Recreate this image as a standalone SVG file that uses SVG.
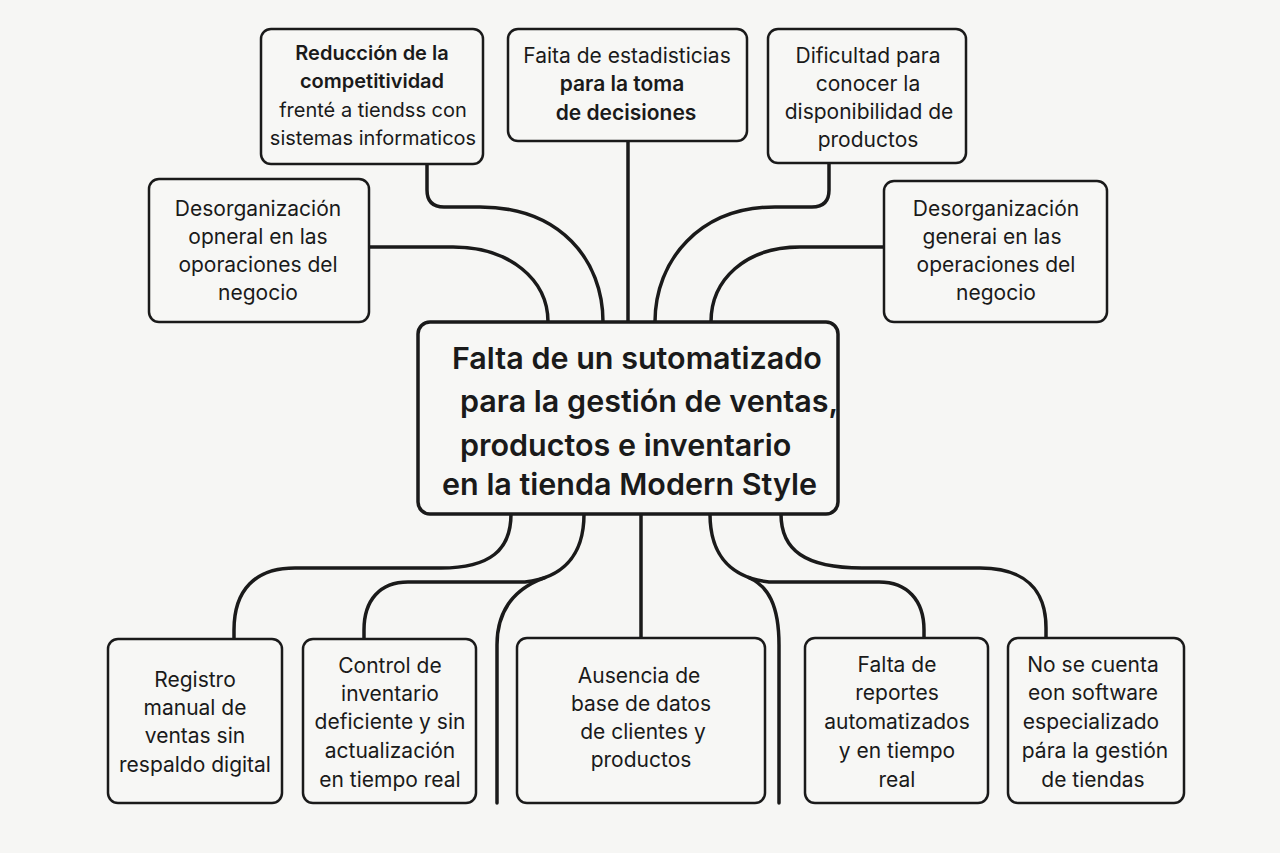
<svg xmlns="http://www.w3.org/2000/svg" width="1280" height="853" viewBox="0 0 1280 853">
<style>
.bg{fill:#f6f6f4}
.box{fill:#f7f7f5;stroke:#1a1a1a;stroke-width:2.5}
.main{fill:#f7f7f5;stroke:#1a1a1a;stroke-width:3.5}
.t{font-family:Inter,"Liberation Sans",sans-serif;font-size:21px;fill:#1a1a1a;text-anchor:middle}
.s{font-size:20px}
.b{font-weight:600}
.m{font-family:Inter,"Liberation Sans",sans-serif;font-size:30.5px;font-weight:600;fill:#1a1a1a}
.c{fill:none;stroke:#1a1a1a;stroke-width:3.5;stroke-linecap:round}
</style>
<rect class="bg" x="0" y="0" width="1280" height="853"/>
<g id="connectors">
<path class="c" d="M427,164 V190 Q427,207 444,207 H480 C560,207 603,260 603,322"/>
<path class="c" d="M369,247 H453 C510,247 548,280 548,322"/>
<path class="c" d="M628,141 V322"/>
<path class="c" d="M655,322 C655,260 700,207 775,207 H812 Q829,207 829,190 V163"/>
<path class="c" d="M711,322 C711,280 745,247 800,247 H884"/>
<path class="c" d="M511,514 C511,550 490,568 441,568 H295 C255,568 234,590 234,630 V639"/>
<path class="c" d="M584,514 C584,558 560,578 525,582 H408 C380,582 364,600 364,630 V639"/>
<path class="c" d="M545,577.6 C520,586.5 497,605 497,645 V803"/>
<path class="c" d="M641,514 V638"/>
<path class="c" d="M710,514 C710,558 734,578 769,582 H879 C907,582 924,600 924,630 V638"/>
<path class="c" d="M749,577.6 C768,586 779,605 779,645 V803"/>
<path class="c" d="M781,514 C781,550 805,568 862,568 H980 C1025,568 1046,590 1046,628 V638"/>
</g>
<g id="n_reduccion">
<rect class="box" x="261" y="29" width="222" height="135" rx="10"/>
<text class="t s b" x="372" y="60">Reducción de la</text>
<text class="t s b" x="372" y="88">competitividad</text>
<text class="t s" x="373" y="117">frenté a tiendss con</text>
<text class="t s" x="373" y="145">sistemas informaticos</text>
</g>
<g id="n_estadisticas">
<rect class="box" x="508" y="29" width="239" height="112" rx="10"/>
<text class="t" x="627" y="63">Faita de estadisticias</text>
<text class="t b" x="622" y="91">para la toma</text>
<text class="t b" x="626" y="120">de decisiones</text>
</g>
<g id="n_dificultad">
<rect class="box" x="768" y="29" width="198" height="134" rx="10"/>
<text class="t" x="868" y="63">Dificultad para</text>
<text class="t" x="868" y="91">conocer la</text>
<text class="t" x="869" y="119">disponibilidad de</text>
<text class="t" x="868" y="147">productos</text>
</g>
<g id="n_desorg_izq">
<rect class="box" x="149" y="179" width="220" height="143" rx="10"/>
<text class="t" x="258" y="216">Desorganización</text>
<text class="t" x="258" y="244">opneral en las</text>
<text class="t" x="258" y="272">oporaciones del</text>
<text class="t" x="258" y="300">negocio</text>
</g>
<g id="n_desorg_der">
<rect class="box" x="884" y="181" width="223" height="141" rx="10"/>
<text class="t" x="996" y="216">Desorganización</text>
<text class="t" x="992" y="244">generai en las</text>
<text class="t" x="996" y="272">operaciones del</text>
<text class="t" x="996" y="300">negocio</text>
</g>
<g id="n_central">
<rect class="main" x="418" y="322" width="420" height="192" rx="12"/>
<text class="m" x="452" y="369">Falta de un sutomatizado</text>
<text class="m" x="460" y="412">para la gestión de ventas,</text>
<text class="m" x="460" y="456">productos e inventario</text>
<text class="m" x="442" y="495">en la tienda Modern Style</text>
</g>
<g id="n_registro">
<rect class="box" x="108" y="639" width="174" height="164" rx="10"/>
<text class="t" x="195" y="687">Registro</text>
<text class="t" x="195" y="715">manual de</text>
<text class="t" x="195" y="743">ventas sin</text>
<text class="t" x="195" y="772">respaldo digital</text>
</g>
<g id="n_control">
<rect class="box" x="303" y="639" width="173" height="164" rx="10"/>
<text class="t" x="390" y="673">Control de</text>
<text class="t" x="390" y="701">inventario</text>
<text class="t" x="390" y="729">deficiente y sin</text>
<text class="t" x="390" y="758">actualización</text>
<text class="t" x="390" y="787">en tiempo real</text>
</g>
<g id="n_ausencia">
<rect class="box" x="517" y="638" width="248" height="165" rx="10"/>
<text class="t" x="639" y="683">Ausencia de</text>
<text class="t" x="641" y="711">base de datos</text>
<text class="t" x="643" y="739">de clientes y</text>
<text class="t" x="641" y="767">productos</text>
</g>
<g id="n_reportes">
<rect class="box" x="805" y="638" width="183" height="165" rx="10"/>
<text class="t" x="897" y="672">Falta de</text>
<text class="t" x="897" y="700">reportes</text>
<text class="t" x="897" y="729">automatizados</text>
<text class="t" x="897" y="758">y en tiempo</text>
<text class="t" x="897" y="787">real</text>
</g>
<g id="n_software">
<rect class="box" x="1008" y="638" width="176" height="165" rx="10"/>
<text class="t" x="1093" y="672">No se cuenta</text>
<text class="t" x="1093" y="700">eon software</text>
<text class="t" x="1091" y="729">especializado</text>
<text class="t" x="1095" y="758">pára la gestión</text>
<text class="t" x="1093" y="787">de tiendas</text>
</g>
</svg>
